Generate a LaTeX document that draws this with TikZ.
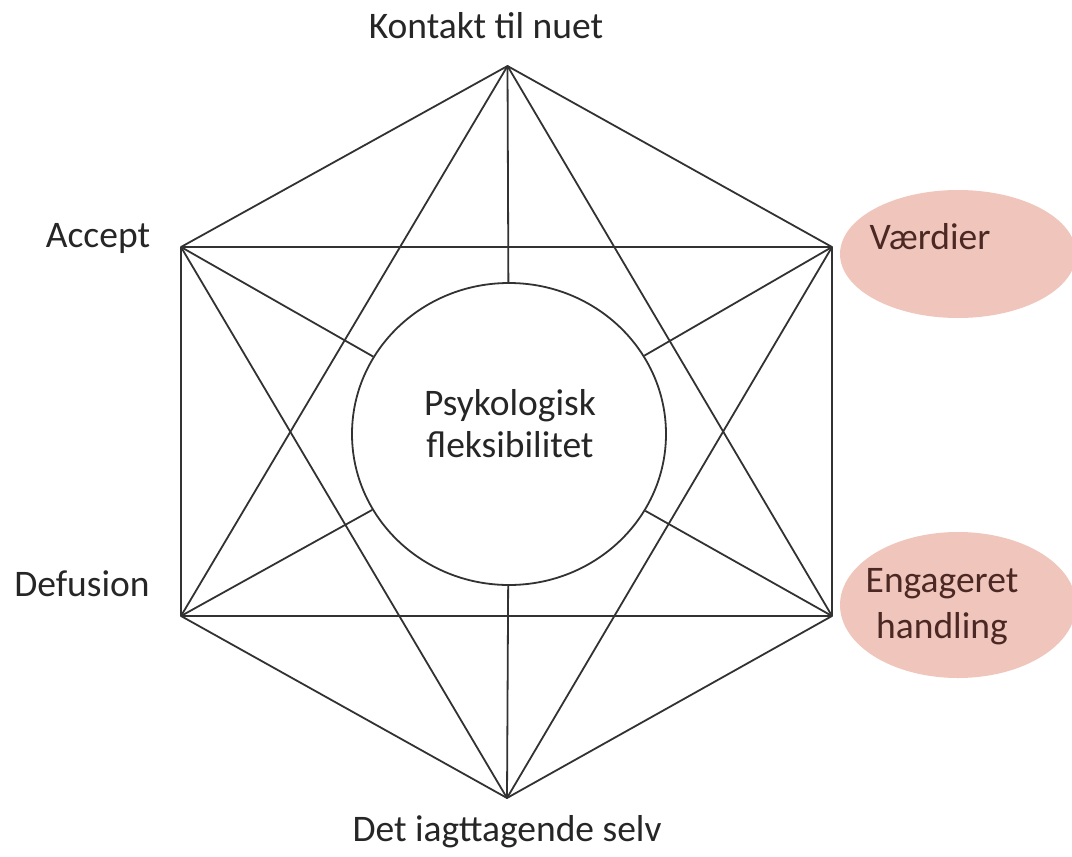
\documentclass[tikz,border=0pt]{standalone}
\usepackage{fontspec}
\setmainfont{Carlito}
\usetikzlibrary{shapes.geometric}
\definecolor{pinkfill}{RGB}{240,198,188}
\definecolor{browntext}{RGB}{75,40,35}
\definecolor{linegray}{RGB}{50,50,50}
\begin{document}
\begin{tikzpicture}[x=1pt,y=-1pt,
  edge/.style={draw=linegray,line width=1.8pt},
  lbl/.style={font=\fontsize{37.5}{44}\selectfont,text=black!85,inner sep=0pt,align=center},
  hl/.style={ellipse,fill=pinkfill,draw=none,inner sep=0pt}]
\useasboundingbox (0,0) rectangle (1072,857);
\coordinate (T) at (507.5,66);
\coordinate (TL) at (181,247);
\coordinate (TR) at (832,247);
\coordinate (BL) at (181,616);
\coordinate (BR) at (832,616);
\coordinate (B) at (507,798);
\node[hl,minimum width=236pt,minimum height=128pt] (ev) at (958,254) {};
\node[hl,minimum width=236pt,minimum height=146pt] (ee) at (958,605) {};
\node[ellipse,draw=linegray,line width=1.8pt,minimum width=314pt,minimum height=302pt,inner sep=0pt] (C) at (509,434) {};
% hexagon
\draw[edge,line join=round] (T) -- (TR) -- (BR) -- (B) -- (BL) -- (TL) -- cycle;
% horizontals
\draw[edge] (TL) -- (TR);
\draw[edge] (BL) -- (BR);
% triangles
\draw[edge] (T) -- (BL);
\draw[edge] (T) -- (BR);
\draw[edge] (B) -- (TL);
\draw[edge] (B) -- (TR);
% spokes
\draw[edge] (T) -- (C);
\draw[edge] (B) -- (C);
\draw[edge] (TL) -- (C);
\draw[edge] (TR) -- (C);
\draw[edge] (BL) -- (C);
\draw[edge] (BR) -- (C);
% labels
\node[lbl] (lt) at (486,26) {Kontakt til nuet};
\node[lbl] (la) at (98,238) {Accept};
\node[lbl] (ld) at (82,584) {Defusion};
\node[lbl] (lb) at (507,832) {Det iagttagende selv};
\node[lbl,font=\fontsize{37.5}{42}\selectfont] (lc) at (510,424) {Psykologisk\\fleksibilitet};
\node[lbl,text=browntext,font=\fontsize{37.5}{46}\selectfont] (lv) at (930,237) {Værdier};
\node[lbl,text=browntext,font=\fontsize{37.5}{46}\selectfont] (le) at (942,607) {Engageret\\handling};
\end{tikzpicture}
\end{document}
